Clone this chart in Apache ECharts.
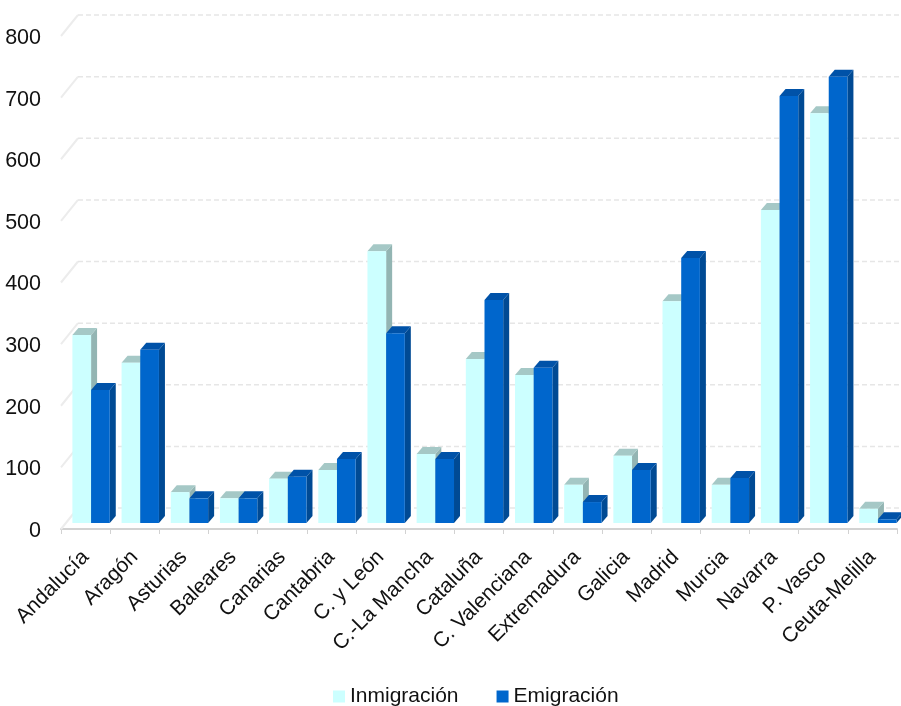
<!DOCTYPE html>
<html>
<head>
<meta charset="utf-8">
<style>html,body{margin:0;padding:0;background:#fff}#c{width:901px;height:706px}</style>
<script src="https://cdn.jsdelivr.net/npm/echarts@6/dist/echarts.min.js"></script>
</head>
<body>
<div id="c"></div>
<script>
const categories = ['Andalucía','Aragón','Asturias','Baleares','Canarias','Cantabria','C. y León','C.-La Mancha','Cataluña','C. Valenciana','Extremadura','Galicia','Madrid','Murcia','Navarra','P. Vasco','Ceuta-Melilla'];
const inmigracion = [305,260,50,40,72,86,441,112,266,240,62,109,360,62,508,665,23];
const emigracion = [216,281,40,40,75,104,308,104,362,252,34,86,430,73,693,724,6];
const yTicks = [0,100,200,300,400,500,600,700,800];

const chart = echarts.init(document.getElementById('c'), null, {renderer:'canvas'});
const TXT = '#111';
const FONT = '"Liberation Sans", Arial, sans-serif';
const BACK = {dx:17, dy:-21};
const DEPTH = {dx:6, dy:-7};
const BASE = {dx:5.5, dy:-6};

function bar3d(which, front, top, side){
  return function(params, api){
    const i = api.value(0), v = api.value(1);
    const bw = api.size([1,0])[0];
    const w = bw * 0.38;
    const c0 = api.coord([i,0]), c1 = api.coord([i,v]);
    const x0 = c0[0] + BASE.dx + (which===0 ? -w : 0);
    const x1 = x0 + w;
    const yb = c0[1] + BASE.dy;
    const yt = c1[1] + BASE.dy;
    const d = DEPTH;
    return {type:'group', children:[
      {type:'polygon', shape:{points:[[x1,yb],[x1+d.dx,yb+d.dy],[x1+d.dx,yt+d.dy],[x1,yt]]}, style:{fill:side}},
      {type:'polygon', shape:{points:[[x0,yt],[x0+d.dx,yt+d.dy],[x1+d.dx,yt+d.dy],[x1,yt]]}, style:{fill:top}},
      {type:'rect', shape:{x:x0,y:yt,width:w,height:yb-yt}, style:{fill:front}}
    ]};
  };
}

chart.setOption({
  animation:false,
  backgroundColor:'#fff',
  grid:{left:61, right:4, top:36, bottom:177, containLabel:false},
  legend:{
    data:[{name:'Inmigración',icon:'rect'},{name:'Emigración',icon:'rect'}],
    left:328, top:681, itemWidth:12, itemHeight:12, itemGap:38,
    textStyle:{fontFamily:FONT, fontSize:21, color:TXT}
  },
  xAxis:{
    type:'category', data:categories, boundaryGap:true,
    axisLine:{show:true, lineStyle:{color:'#d2d2d2', width:2}},
    axisTick:{show:true, alignWithLabel:false, length:5, lineStyle:{color:'#d2d2d2', width:1}},
    axisLabel:{interval:0, rotate:45, margin:25, fontFamily:FONT, fontSize:21, color:TXT},
    splitLine:{show:false}
  },
  yAxis:{
    type:'value', min:0, max:800, interval:100,
    axisLine:{show:false}, axisTick:{show:false},
    axisLabel:{
      margin:20, color:TXT,
      formatter:'{t|{value}}',
      rich:{t:{fontFamily:FONT, fontSize:21.5, color:TXT, padding:[4,0,0,0], lineHeight:24}}
    },
    splitLine:{show:false}
  },
  series:[
    {
      type:'custom', name:'wall', silent:true, z:1,
      data:yTicks.map(t=>[0,t]),
      encode:{x:0,y:1},
      renderItem:function(params, api){
        const y = api.coord([0,api.value(1)])[1];
        const x = params.coordSys.x;
        const right = params.coordSys.x + params.coordSys.width + 4;
        return {type:'group', children:[
          {type:'line', shape:{x1:x,y1:y,x2:x+BACK.dx,y2:y+BACK.dy}, style:{stroke:'#ececec', lineWidth:2}},
          {type:'line', shape:{x1:x+BACK.dx,y1:y+BACK.dy,x2:right,y2:y+BACK.dy}, style:{stroke:'#e6e6e6', lineWidth:1.5, lineDash:[5,3]}}
        ]};
      }
    },
    {
      type:'custom', name:'Inmigración', z:2,
      itemStyle:{color:'#ccffff'},
      data:inmigracion.map((v,i)=>[i,v]),
      encode:{x:0,y:1},
      renderItem:bar3d(0,'#ccffff','#a5c8c6','#93b5b3')
    },
    {
      type:'custom', name:'Emigración', z:3,
      itemStyle:{color:'#0066cc'},
      data:emigracion.map((v,i)=>[i,v]),
      encode:{x:0,y:1},
      renderItem:bar3d(1,'#0066cc','#0052a8','#004a94')
    }
  ]
});
</script>
</body>
</html>
